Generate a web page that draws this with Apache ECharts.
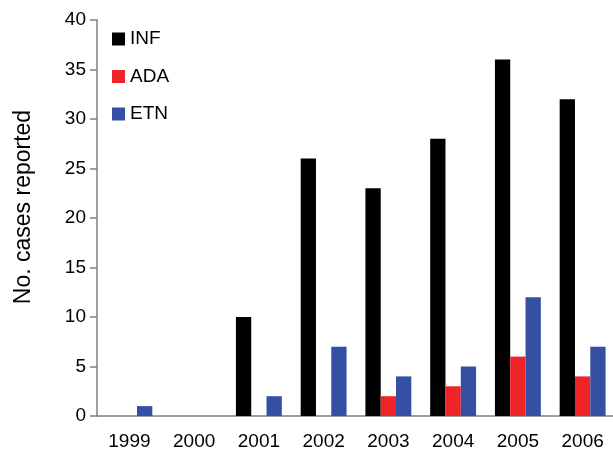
<!DOCTYPE html>
<html><head><meta charset="utf-8">
<script src="https://cdn.jsdelivr.net/npm/echarts@6/dist/echarts.min.js"></script>
<style>html,body{margin:0;padding:0;background:#fff}#c{width:613px;height:454px}</style>
</head><body><div id="c"></div>
<script>
const years = ['1999','2000','2001','2002','2003','2004','2005','2006'];
const infValues = [0,0,10,26,23,28,36,32];
const adaValues = [0,0,0,0,2,3,6,4];
const etnValues = [1,0,2,7,4,5,12,7];
const seriesNames = ['INF','ADA','ETN'];
const colors = ['#000000','#ee2428','#3550a3'];

const chart = echarts.init(document.getElementById('c'), null, {renderer:'canvas'});
const font = 'Arial, "Liberation Sans", Helvetica, sans-serif';
const mk = (name, data, color) => ({
  name, type:'bar', data, barWidth:15.3, barGap:'0%',
  itemStyle:{color}, emphasis:{disabled:true}
});
chart.setOption({
  animation:false,
  textStyle:{fontFamily:font},
  grid:{left:97, right:-2, top:20, bottom:38, containLabel:false, outerBoundsMode:'none'},
  legend:{
    orient:'vertical', left:107, top:24, itemWidth:13, itemHeight:13, itemGap:17.5,
    icon:'rect', data:seriesNames,
    textStyle:{fontSize:19, lineHeight:20, color:'#000', fontFamily:font}
  },
  xAxis:{
    type:'category', data:years,
    axisLine:{lineStyle:{color:'#808080', width:1.5}},
    axisTick:{show:false},
    axisLabel:{color:'#000', fontSize:19, margin:16, fontFamily:font}
  },
  yAxis:{
    type:'value', min:0, max:40, interval:5,
    name:'No. cases reported', nameLocation:'middle', nameGap:62,
    nameTextStyle:{fontSize:23, color:'#000', fontFamily:font, padding:[0,0,0,22]},
    axisLine:{show:true, lineStyle:{color:'#808080', width:1.5}},
    axisTick:{show:true, length:7, lineStyle:{color:'#808080', width:1.5}},
    splitLine:{show:false},
    axisLabel:{color:'#000', fontSize:19, margin:11, fontFamily:font}
  },
  series:[
    mk(seriesNames[0], infValues, colors[0]),
    mk(seriesNames[1], adaValues, colors[1]),
    mk(seriesNames[2], etnValues, colors[2])
  ]
});
</script></body></html>
